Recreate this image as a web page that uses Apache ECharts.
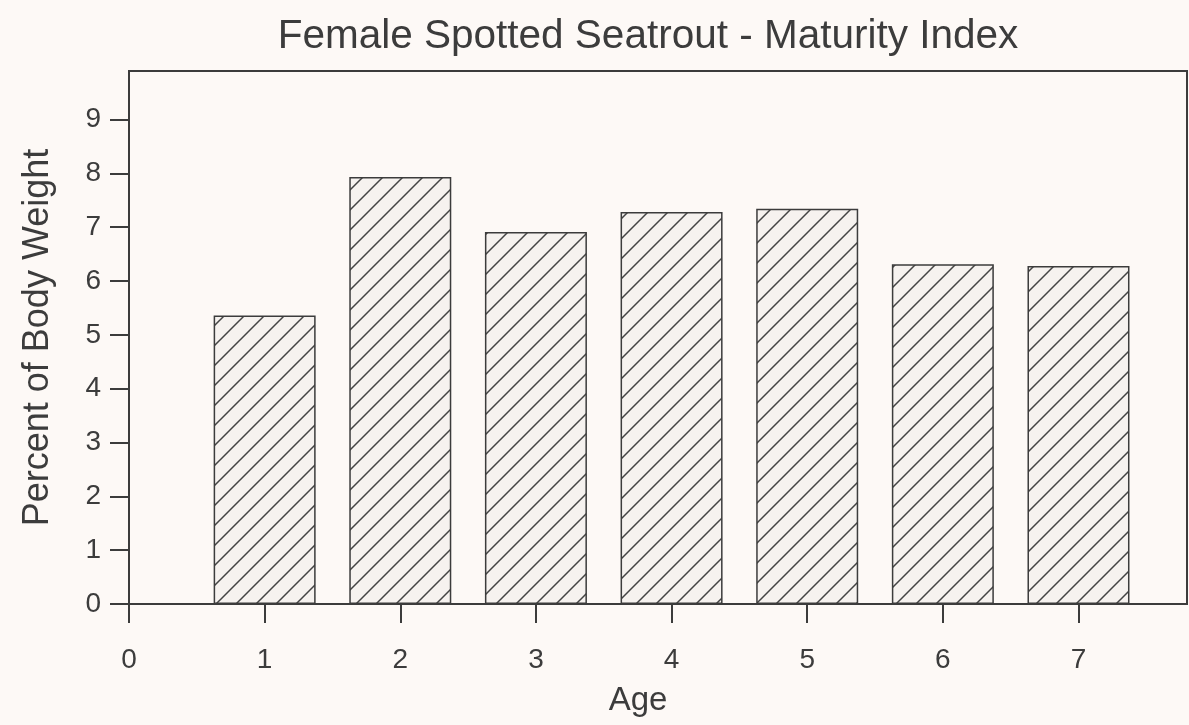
<!DOCTYPE html>
<html>
<head>
<meta charset="utf-8">
<script src="https://cdn.jsdelivr.net/npm/echarts@6/dist/echarts.min.js"></script>
<style>
  html, body { margin: 0; padding: 0; background: #fdf9f6; }
  #chart { width: 1189px; height: 725px; }
</style>
</head>
<body>
<div id="chart"></div>
<script>
  // data
  var ages = [1, 2, 3, 4, 5, 6, 7]
  var percentBodyWeight = [5.36, 7.93, 6.91, 7.28, 7.34, 6.31, 6.28]
  var xTicks = [0, 1, 2, 3, 4, 5, 6, 7]
  var yTicks = [0, 1, 2, 3, 4, 5, 6, 7, 8, 9]

  var ink = '#3c3c3c'
  var font = '"Liberation Sans", Arial, sans-serif'

  // diagonal hatch fill for the bars
  function hatch () {
    var s = 20
    var c = document.createElement('canvas')
    c.width = s
    c.height = s
    var ctx = c.getContext('2d')
    ctx.fillStyle = '#f6f2ef'
    ctx.fillRect(0, 0, s, s)
    ctx.strokeStyle = '#444'
    ctx.lineWidth = 1.5
    ctx.beginPath()
    ctx.moveTo(-2, s + 2)
    ctx.lineTo(s + 2, -2)
    ctx.moveTo(-2, 2)
    ctx.lineTo(2, -2)
    ctx.moveTo(s - 2, s + 2)
    ctx.lineTo(s + 2, s - 2)
    ctx.stroke()
    return c
  }

  var seriesData = ages.map(function (a, i) {
    return [a, percentBodyWeight[i]]
  })

  var chart = echarts.init(document.getElementById('chart'))
  chart.setOption({
    backgroundColor: '#fdf9f6',
    animation: false,
    title: {
      text: 'Female Spotted Seatrout - Maturity Index',
      left: 643,
      top: 11,
      textAlign: 'center',
      textStyle: { fontFamily: font, fontWeight: 'normal', fontSize: 40.5, color: ink }
    },
    grid: {
      left: 129,
      right: 2,
      top: 71,
      bottom: 121,
      show: true,
      borderColor: ink,
      borderWidth: 2,
      backgroundColor: 'transparent'
    },
    xAxis: {
      type: 'value',
      min: 0,
      max: 7.8,
      interval: 1,
      name: 'Age',
      nameLocation: 'middle',
      nameGap: 80,
      nameTextStyle: { fontFamily: font, fontSize: 33, color: ink, padding: [0, 40, 0, 0] },
      axisLine: { show: true, lineStyle: { color: ink, width: 2 } },
      axisTick: { show: true, inside: false, length: 19, customValues: xTicks, lineStyle: { color: ink, width: 2 } },
      axisLabel: { customValues: xTicks, margin: 42, fontFamily: font, fontSize: 28, color: ink },
      splitLine: { show: false }
    },
    yAxis: {
      type: 'value',
      min: 0,
      max: 9.9,
      interval: 1,
      name: 'Percent of Body Weight',
      nameLocation: 'middle',
      nameGap: 73,
      nameRotate: 90,
      nameTextStyle: { fontFamily: font, fontSize: 36, color: ink },
      axisLine: { show: true, lineStyle: { color: ink, width: 2 } },
      axisTick: { show: true, inside: false, length: 19, customValues: yTicks, lineStyle: { color: ink, width: 2 } },
      axisLabel: { customValues: yTicks, margin: 28, fontFamily: font, fontSize: 28, color: ink },
      splitLine: { show: false }
    },
    series: [{
      type: 'bar',
      data: seriesData,
      barWidth: 102,
      itemStyle: {
        color: { image: hatch(), repeat: 'repeat' },
        borderColor: ink,
        borderWidth: 1.5
      }
    }]
  })
</script>
</body>
</html>
